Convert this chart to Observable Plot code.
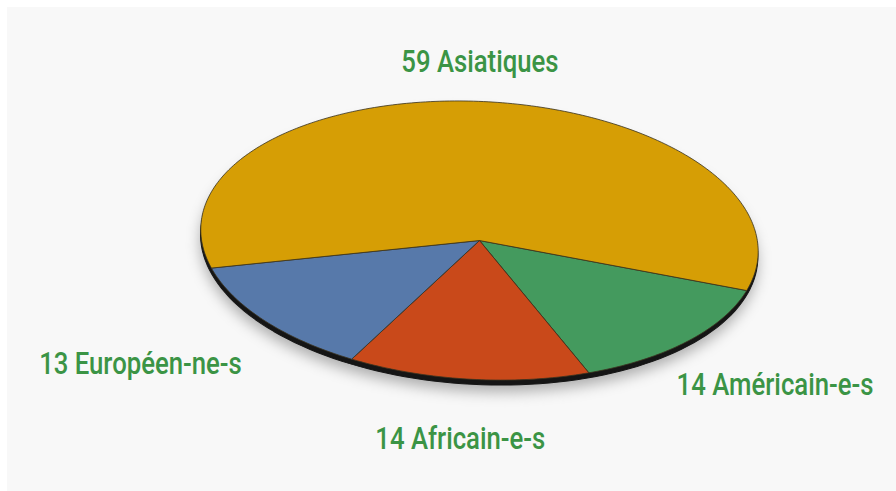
<!DOCTYPE html>
<html><head><meta charset="utf-8">
<script src="https://cdn.jsdelivr.net/npm/d3@7"></script>
<script src="https://cdn.jsdelivr.net/npm/@observablehq/plot@0.6"></script>
<style>
html,body{margin:0;padding:0;background:#fff;}
#wrap{position:relative;width:896px;height:491px;overflow:hidden;}
#panel{position:absolute;left:7px;top:7px;right:0;bottom:0;background:#f8f8f8;}
#chart{position:absolute;left:0;top:0;}
</style></head><body>
<div id="wrap"><div id="panel"></div><div id="chart"></div></div>
<script>
// Data (clockwise from the right-hand side)
const categories = ["Américain-e-s", "Africain-e-s", "Européen-ne-s", "Asiatiques"];
const values = [14, 14, 13, 59];
const colors = ["#449a5e", "#c9491a", "#5779aa", "#d69e05"];

// Geometry of the tilted disc
const CX = 479, CY = 240, RX = 279, RY = 139, TILT = 3, START = 15;
const total = d3.sum(values);
const toRad = d => d * Math.PI / 180;
const t = toRad(TILT);

let a0 = START;
const slices = [], labels = [];
categories.forEach((c, i) => {
  const span = values[i] / total * 360;
  slices.push({cat: c, x: 0, y: 0});
  const n = Math.max(2, Math.ceil(span));
  for (let k = 0; k <= n; k++) {
    const a = toRad(a0 + span * k / n);
    slices.push({cat: c, x: Math.cos(a), y: Math.sin(a)});
  }
  slices.push({cat: c, x: 0, y: 0});
  // label: next to the rim point at the slice's mid-angle
  const m = toRad(a0 + span / 2);
  const cm = Math.cos(m), sm = Math.sin(m);
  const u = RX * cm, v = RY * sm;
  const u2 = u * Math.cos(t) - v * Math.sin(t), v2 = u * Math.sin(t) + v * Math.cos(t);
  const below = sm > 0;
  const side = cm < -0.3 ? "left" : cm > 0.3 ? "right" : "middle";
  const sx = below ? (side === "left" ? -22 : side === "right" ? -11 : -9) : -1;
  const sy = below ? (side === "left" ? 44 : 40 + 20 * Math.pow(sm, 4)) : -39;
  labels.push({cat: c, side, text: `${values[i]} ${c}`, x: (u2 + sx) / RX, y: (v2 + sy) / RY});
  a0 += span;
});
const rim = d3.range(0, 361, 2).map(a => ({x: Math.cos(toRad(a)), y: Math.sin(toRad(a))}));

const font = "Roboto, 'Liberation Sans', Arial, sans-serif";
const textOpts = anchor => ({x: "x", y: "y", text: "text", fill: "#3b9445", fontSize: 31, fontWeight: 500, fontFamily: font, textAnchor: anchor});

const plot = Plot.plot({
  width: 896, height: 491, margin: 0,
  x: {axis: null, domain: [-1, 1], range: [CX - RX, CX + RX]},
  y: {axis: null, domain: [-1, 1], range: [CY - RY, CY + RY]},
  color: {domain: categories, range: colors},
  style: {background: "transparent", overflow: "visible"},
  marks: [
    Plot.line(rim, {x: "x", y: "y", fill: "#000", fillOpacity: 0.3, stroke: "none", dy: 12}),
    Plot.line(rim, {x: "x", y: "y", fill: "#151515", stroke: "#151515", strokeWidth: 1, dy: 5}),
    Plot.line(slices, {x: "x", y: "y", z: "cat", fill: "cat", stroke: "#3b3320", strokeWidth: 0.8, strokeLinejoin: "round"}),
    Plot.text(labels.filter(d => d.side === "left"), textOpts("end")),
    Plot.text(labels.filter(d => d.side === "right"), textOpts("start")),
    Plot.text(labels.filter(d => d.side === "middle"), textOpts("middle"))
  ]
});

const svg = d3.select(plot);
// tilt the disc and soften its shadow
const defs = svg.insert("defs", ":first-child");
defs.append("filter").attr("id", "soft").attr("x", "-20%").attr("y", "-20%").attr("width", "140%").attr("height", "140%")
  .append("feGaussianBlur").attr("stdDeviation", 7);
svg.selectAll('g[aria-label="line"]').each(function(d, i) {
  const wrap = document.createElementNS("http://www.w3.org/2000/svg", "g");
  wrap.setAttribute("transform", `rotate(${TILT},${CX},${CY})`);
  if (i === 0) wrap.setAttribute("filter", "url(#soft)");
  this.parentNode.insertBefore(wrap, this);
  wrap.appendChild(this);
});
// condensed lettering
svg.selectAll('g[aria-label="text"] text').each(function() {
  const x = +this.getAttribute("x") || 0, y = +this.getAttribute("y") || 0;
  const tr = this.getAttribute("transform") || "";
  this.setAttribute("transform", `${tr} translate(${x},${y}) scale(0.83,1) translate(${-x},${-y})`);
});
document.getElementById("chart").appendChild(plot);
</script>
</body></html>
